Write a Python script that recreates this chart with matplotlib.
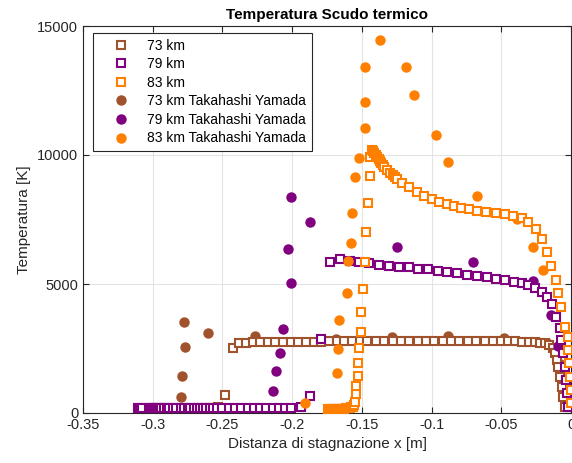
import matplotlib
matplotlib.use("Agg")
import matplotlib.pyplot as plt

plt.rcParams['font.family'] = ['Liberation Sans', 'DejaVu Sans']

# colori
brown = '#A0522D'
purple = '#800080'
orange = '#FF8000'

# simulazione 73 km
sim73_x = [-0.2580, -0.2530, -0.2481, -0.2426, -0.2380, -0.2330, -0.2280, -0.2230, -0.2175, -0.2120,
           -0.2065, -0.2010, -0.1955, -0.1900, -0.1845, -0.1790, -0.1735, -0.1680, -0.1625, -0.1570,
           -0.1515, -0.1460, -0.1400, -0.1340, -0.1280, -0.1220, -0.1160, -0.1100, -0.1040, -0.0980,
           -0.0920, -0.0860, -0.0800, -0.0740, -0.0680, -0.0620, -0.0560, -0.0500, -0.0450, -0.0400,
           -0.0350, -0.0300, -0.0260, -0.0220, -0.0185, -0.0155, -0.0126, -0.0114, -0.0102, -0.0090,
           -0.0079, -0.0067, -0.0055, -0.0043]
sim73_y = [200, 244, 698, 2508, 2725, 2730, 2735, 2740, 2745, 2750,
           2755, 2758, 2760, 2765, 2768, 2770, 2772, 2775, 2776, 2778,
           2780, 2782, 2783, 2785, 2786, 2787, 2788, 2789, 2790, 2790,
           2790, 2790, 2790, 2790, 2788, 2786, 2784, 2782, 2780, 2776,
           2770, 2765, 2750, 2730, 2700, 2620, 2508, 2314, 2054, 1794,
           1407, 1019, 632, 244]

# simulazione 79 km
sim79_x = [-0.3105, -0.3090, -0.3075, -0.3030, -0.3015, -0.3000, -0.2985, -0.2970, -0.2955, -0.2940,
           -0.2920, -0.2900, -0.2880, -0.2855, -0.2830, -0.2800, -0.2775, -0.2750, -0.2730, -0.2705,
           -0.2680, -0.2660, -0.2640, -0.2615, -0.2590, -0.2565, -0.2540, -0.2500, -0.2455, -0.2410,
           -0.2365, -0.2320, -0.2275, -0.2230, -0.2185, -0.2140, -0.2095, -0.2050, -0.2005, -0.1935,
           -0.1870, -0.1795, -0.1728, -0.1656, -0.1585, -0.1518, -0.1446, -0.1374, -0.1305, -0.1233,
           -0.1161, -0.1095, -0.1023, -0.0956, -0.0887, -0.0815, -0.0743, -0.0676, -0.0604, -0.0537,
           -0.0470, -0.0408, -0.0353, -0.0305, -0.0257, -0.0208, -0.0173, -0.0137, -0.0105, -0.0081,
           -0.0069, -0.0057, -0.0045, -0.0033, -0.0026, -0.0021]
sim79_y = [180, 180, 180, 180, 180, 180, 180, 180, 180, 180,
           180, 180, 180, 180, 180, 180, 180, 180, 180, 180,
           180, 180, 180, 180, 180, 180, 180, 180, 180, 180,
           180, 180, 180, 180, 180, 180, 180, 180, 180, 250,
           660, 2850, 5841, 5969, 5891, 5853, 5802, 5736, 5709, 5671,
           5647, 5593, 5570, 5516, 5453, 5415, 5349, 5310, 5260, 5206,
           5155, 5089, 5027, 4961, 4833, 4702, 4508, 4225, 3733, 3283,
           2830, 2314, 1794, 1279, 764, 244]

# simulazione 83 km
sim83_x = [-0.1745, -0.1735, -0.1725, -0.1715, -0.1705, -0.1695, -0.1685, -0.1675, -0.1665, -0.1655,
           -0.1645, -0.1635, -0.1625, -0.1615, -0.1605, -0.1595, -0.1585, -0.1575, -0.1565, -0.1557,
           -0.1549, -0.1544, -0.1540, -0.1530, -0.1525, -0.1518, -0.1506, -0.1504, -0.1490, -0.1475,
           -0.1468, -0.1455, -0.1443, -0.1441, -0.1430, -0.1420, -0.1410, -0.1400, -0.1390, -0.1380,
           -0.1370, -0.1360, -0.1350, -0.1340, -0.1320, -0.1300, -0.1280, -0.1260, -0.1245, -0.1214,
           -0.1160, -0.1106, -0.1054, -0.0999, -0.0946, -0.0891, -0.0840, -0.0790, -0.0735, -0.0676,
           -0.0609, -0.0537, -0.0473, -0.0418, -0.0353, -0.0305, -0.0250, -0.0210, -0.0169, -0.0143,
           -0.0107, -0.0090, -0.0071, -0.0043, -0.0019, -0.0019, -0.0012, -0.0007, -0.0002, -0.0002]
sim83_y = [150, 150, 150, 150, 150, 150, 150, 150, 155, 160,
           160, 165, 170, 175, 180, 190, 200, 220, 250, 300,
           438, 736, 1047, 1434, 1926, 2508, 3151, 3903, 4806, 5853,
           7004, 8151, 9186, 9934, 10200, 10150, 10080, 10000, 9930, 9850,
           9770, 9690, 9610, 9530, 9420, 9320, 9220, 9130, 9058, 8903,
           8748, 8578, 8423, 8295, 8178, 8101, 8030, 7960, 7900, 7830,
           7779, 7740, 7713, 7648, 7547, 7392, 7132, 6744, 6252, 5709,
           5155, 4640, 4120, 3345, 2958, 2442, 1938, 1407, 891, 387]

# Takahashi Yamada
ty73_x = [-0.2773, -0.2605, -0.2768, -0.2788, -0.2797, -0.2264, -0.1685, -0.1286, -0.0884, -0.0478,
          -0.0170, -0.0105, -0.0080, -0.0035]
ty73_y = [3539, 3089, 2547, 1446, 609, 2985, 2857, 2957, 2985, 2919,
          2720, 2350, 1900, 1280]

ty79_x = [-0.2063, -0.2087, -0.2116, -0.2140, -0.2008, -0.1872, -0.2032, -0.2010, -0.1250, -0.0700,
          -0.0274, -0.0143, -0.0090]
ty79_y = [3244, 2314, 1640, 853, 8384, 7415, 6357, 5027, 6446, 5865,
          5128, 3798, 2600]

ty83_x = [-0.1369, -0.1477, -0.1183, -0.1125, -0.1477, -0.1477, -0.0968, -0.1520, -0.0879, -0.1549,
          -0.0674, -0.1568, -0.1577, -0.1600, -0.1610, -0.1662, -0.1669, -0.1680, -0.1907, -0.0385,
          -0.0270, -0.0198]
ty83_y = [14457, 13420, 13420, 12326, 12043, 11060, 10775, 9884, 9740, 9135,
          8411, 7764, 6601, 5891, 4650, 3605, 2469, 1539, 376, 7508,
          6423, 5543]

fig = plt.figure(figsize=(5.72, 4.63), dpi=100)
ax = fig.add_axes([83/572, 50/463, 488/572, 387/463])

sq = dict(linestyle='none', marker='s', markersize=6, markeredgewidth=1.5, markerfacecolor='white')
ci = dict(linestyle='none', marker='o', markersize=7.5, markeredgewidth=0)

h73c, = ax.plot(ty73_x, ty73_y, color=brown, markerfacecolor=brown, zorder=3, **ci)
h73, = ax.plot(sim73_x, sim73_y, color=brown, zorder=4, **sq)
h79c, = ax.plot(ty79_x, ty79_y, color=purple, markerfacecolor=purple, zorder=5, **ci)
h79, = ax.plot(sim79_x, sim79_y, color=purple, zorder=6, **sq)
h83c, = ax.plot(ty83_x, ty83_y, color=orange, markerfacecolor=orange, zorder=7, **ci)
h83, = ax.plot(sim83_x, sim83_y, color=orange, zorder=8, **sq)

ax.set_xlim(-0.35, 0)
ax.set_ylim(0, 15000)
ax.set_xticks([-0.35, -0.3, -0.25, -0.2, -0.15, -0.1, -0.05, 0])
ax.set_xticklabels(['-0.35', '-0.3', '-0.25', '-0.2', '-0.15', '-0.1', '-0.05', '0'])
ax.set_yticks([0, 5000, 10000, 15000])
ax.grid(True, color='#e3e3e3', linewidth=0.8)
ax.set_axisbelow(True)
ax.tick_params(direction='in', top=True, right=True, labelsize=10.5, colors='#262626', length=4)
for s in ax.spines.values():
    s.set_color('#262626')
    s.set_linewidth(0.8)

ax.set_title('Temperatura Scudo termico', fontsize=11, fontweight='bold', pad=5)
ax.set_xlabel('Distanza di stagnazione x [m]', fontsize=11, color='#262626')
ax.set_ylabel('Temperatura [K]', fontsize=11, color='#262626')

leg = ax.legend([h73, h79, h83, h73c, h79c, h83c],
                ['73 km', '79 km', '83 km', '73 km Takahashi Yamada', '79 km Takahashi Yamada',
                 '83 km Takahashi Yamada'],
                loc='upper left', bbox_to_anchor=(0.0205, 0.982), borderaxespad=0, fontsize=10,
                fancybox=False, framealpha=1, edgecolor='#262626', handlelength=3.2,
                handletextpad=0.3, labelspacing=0.33, borderpad=0.4)
leg.get_frame().set_linewidth(0.8)

fig.savefig('out.png', dpi=100)
